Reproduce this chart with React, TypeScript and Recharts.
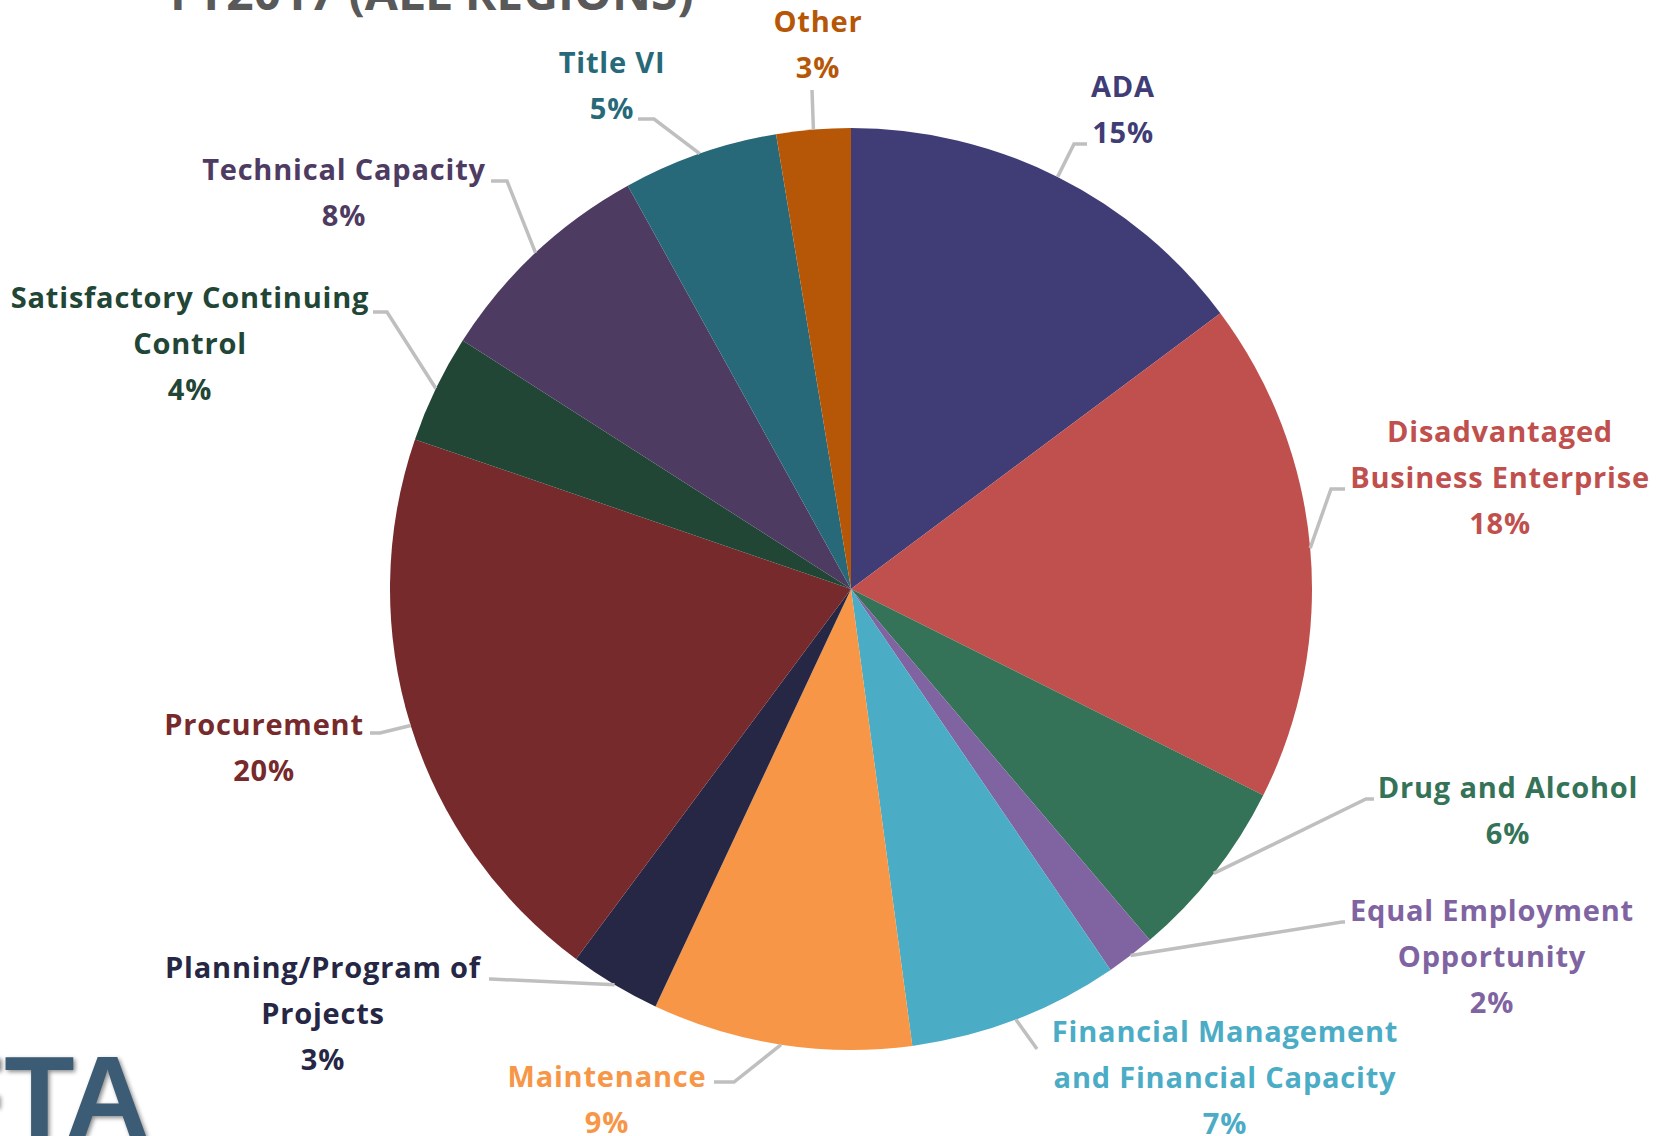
import React from 'react'
import { PieChart, Pie, Cell } from 'recharts'

// share of findings by review area, clockwise from 12 o'clock
const areas = [
  'ADA',
  'Disadvantaged Business Enterprise',
  'Drug and Alcohol',
  'Equal Employment Opportunity',
  'Financial Management and Financial Capacity',
  'Maintenance',
  'Planning/Program of Projects',
  'Procurement',
  'Satisfactory Continuing Control',
  'Technical Capacity',
  'Title VI',
  'Other'
]
const shares = [14.8, 17.6, 6.4, 1.7, 7.4, 9.1, 3.2, 20.1, 3.8, 7.9, 5.45, 2.6]
const sliceColors = [
  '#403d76', '#c0504d', '#347357', '#8064a2', '#4bacc6', '#f79646',
  '#262645', '#772a2b', '#214635', '#4e3b62', '#276979', '#b65708'
]
// how each name is broken over lines in the label
const labelLines = [
  ['ADA'],
  ['Disadvantaged', 'Business Enterprise'],
  ['Drug and Alcohol'],
  ['Equal Employment', 'Opportunity'],
  ['Financial Management', 'and Financial Capacity'],
  ['Maintenance'],
  ['Planning/Program of', 'Projects'],
  ['Procurement'],
  ['Satisfactory Continuing', 'Control'],
  ['Technical Capacity'],
  ['Title VI'],
  ['Other']
]

const data = areas.map((name, i) => ({ name, value: shares[i] }))

// label placement: text centre x, first baseline, leader bend and end
const labelPos = [
  { x: 1123, y: 97, bend: [1074, 144], end: [1087, 144] },
  { x: 1500, y: 442, bend: [1331, 489], end: [1345, 489] },
  { x: 1508, y: 798, bend: [1366, 799], end: [1374, 799] },
  { x: 1492, y: 921, bend: [1342, 922], end: [1345, 922] },
  { x: 1225, y: 1042, bend: [1037, 1049], end: [1037, 1049] },
  { x: 607, y: 1087, bend: [734, 1082], end: [714, 1082] },
  { x: 323, y: 978, bend: [491, 979], end: [489, 979] },
  { x: 264, y: 735, bend: [380, 733], end: [370, 733] },
  { x: 190, y: 308, bend: [387, 312], end: [373, 312] },
  { x: 344, y: 180, bend: [507, 181], end: [491, 181] },
  { x: 612, y: 73, bend: [654, 119], end: [638, 119] },
  { x: 818, y: 32, bend: [812, 90], end: [812, 90] }
]

const RAD = Math.PI / 180
const FONT = '"Open Sans", "DejaVu Sans", sans-serif'

const renderLabel = (props: any) => {
  const { cx, cy, midAngle, outerRadius, percent, index } = props
  const pos = labelPos[index]
  const sx = cx + outerRadius * Math.cos(-midAngle * RAD)
  const sy = cy + outerRadius * Math.sin(-midAngle * RAD)
  const lines = [...labelLines[index], `${Math.round(percent * 100)}%`]
  return (
    <g key={`lbl-${index}`}>
      <polyline
        points={`${sx},${sy} ${pos.bend[0]},${pos.bend[1]} ${pos.end[0]},${pos.end[1]}`}
        fill="none"
        stroke="#bfbfbf"
        strokeWidth={3.5}
      />
      <text
        x={pos.x}
        y={pos.y}
        textAnchor="middle"
        fill={sliceColors[index]}
        fontFamily={FONT}
        fontWeight={700}
        fontSize={29}
        letterSpacing={0.8}
      >
        {lines.map((t, k) => (
          <tspan key={k} x={pos.x} dy={k === 0 ? 0 : 46}>
            {t}
          </tspan>
        ))}
      </text>
    </g>
  )
}

export default function App() {
  return (
    <div style={{ position: 'absolute', left: 0, top: 0, width: 1667, height: 1136, overflow: 'hidden', background: '#fff' }}>
      <svg width={1667} height={1136} style={{ position: 'absolute', left: 0, top: 0 }}>
        <text x={170} y={10} fontFamily={FONT} fontWeight={700} fontSize={48} fill="#595959">
          FY2017 (ALL REGIONS)
        </text>
        <text
          x={-66}
          y={1136}
          fontFamily={'"Liberation Sans Narrow", "Liberation Sans", sans-serif'}
          fontWeight={700}
          fontSize={115}
          fill="#3b5c74"
          style={{ filter: 'drop-shadow(2px 2px 2px rgba(0,0,0,0.45))' }}
        >
          FTA
        </text>
      </svg>
      <div style={{ position: 'absolute', left: 0, top: 0 }}>
        <PieChart width={1667} height={1136}>
          <Pie
            data={data}
            dataKey="value"
            nameKey="name"
            cx={846}
            cy={584}
            outerRadius={461}
            startAngle={90}
            endAngle={-270}
            stroke="none"
            label={renderLabel}
            labelLine={false}
            isAnimationActive={false}
          >
            {data.map((d, i) => (
              <Cell key={d.name} fill={sliceColors[i]} />
            ))}
          </Pie>
        </PieChart>
      </div>
    </div>
  )
}
